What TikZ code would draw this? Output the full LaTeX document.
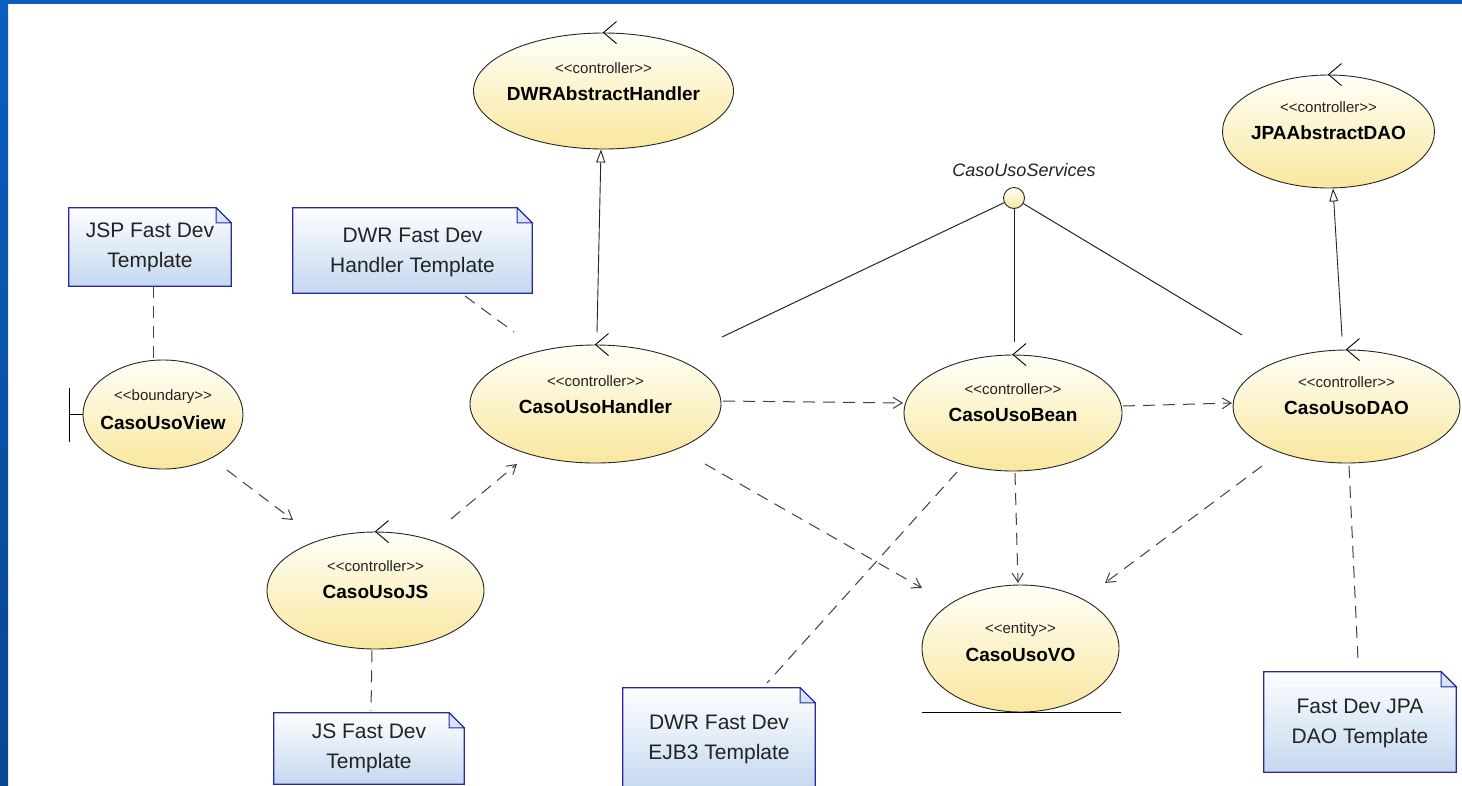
\documentclass[tikz,border=0pt]{standalone}
\usepackage{fontspec}
\setmainfont{Liberation Sans}
\usetikzlibrary{arrows.meta,shapes.geometric}
\definecolor{ucTop}{RGB}{255,255,248}
\definecolor{ucMid}{RGB}{252,247,214}
\definecolor{ucBot}{RGB}{249,231,158}
\definecolor{noteTop}{RGB}{253,254,255}
\definecolor{noteBot}{RGB}{196,216,240}
\definecolor{noteLine}{RGB}{40,40,165}
\definecolor{frameTop}{RGB}{10,94,192}
\definecolor{frameBot}{RGB}{8,70,145}
\definecolor{txt}{RGB}{35,35,35}
\newcommand{\stereo}[1]{<\kern0pt<#1>\kern0pt>}
\newcommand{\ctrlmark}[1]{\draw[line width=0.9pt] ([shift={(13,-11)}]#1.north) -- (#1.north) -- ([shift={(13,11)}]#1.north);}
\newcommand{\notedraw}[1]{%
  \path[notepath] (#1.north west) -- ([xshift=-15pt]#1.north east) -- ([yshift=-15pt]#1.north east) -- (#1.south east) -- (#1.south west) -- cycle;
  \draw[draw=noteLine, line width=1pt, fill=noteBot!70] ([xshift=-15pt]#1.north east) -- ([xshift=-15pt,yshift=-15pt]#1.north east) -- ([yshift=-15pt]#1.north east) -- cycle;}
\begin{document}
\begin{tikzpicture}[x=1pt,y=-1pt,
  uc/.style={ellipse, draw=black!85, line width=0.9pt, top color=ucTop, middle color=ucMid, bottom color=ucBot, inner sep=0pt},
  sttxt/.style={font=\fontsize{15}{18}\selectfont, text=txt, inner sep=0pt},
  nmtxt/.style={font=\fontsize{19}{22}\selectfont\bfseries, inner sep=0pt},
  notefr/.style={inner sep=0pt, draw=none},
  notetxt/.style={inner sep=0pt, align=center, font=\fontsize{21}{30}\selectfont, text=txt},
  notepath/.style={draw=noteLine, line width=1.2pt, top color=noteTop, bottom color=noteBot},
  link/.style={draw=black!75, line width=1pt, dash pattern=on 12pt off 8pt},
  dep/.style={link, -{Straight Barb[length=9pt,width=11pt]}},
  gen/.style={draw=black!85, line width=0.9pt, -{Triangle[open,length=13pt,width=9pt,fill=white]}},
  assoc/.style={draw=black!85, line width=1pt}]
\useasboundingbox (0,0) rectangle (1462,785);
\clip (0,0) rectangle (1462,785);
\fill[white] (0,0) rectangle (1462,785);
\shade[top color=frameTop, bottom color=frameBot] (0,0) rectangle (8,785);
\fill[frameTop] (0,0) rectangle (1462,4);

% use-case ellipses
\node[uc, minimum width=260pt, minimum height=116pt] (dwr) at (603.5,91) {};
\node[uc, minimum width=251pt, minimum height=118pt] (hdl) at (595.5,404) {};
\node[uc, minimum width=160pt, minimum height=109pt] (view) at (163,414.5) {};
\node[uc, minimum width=217pt, minimum height=117pt] (js) at (375.5,590.5) {};
\node[uc, minimum width=218pt, minimum height=116pt] (bean) at (1013,413) {};
\node[uc, minimum width=227pt, minimum height=113pt] (dao) at (1346.5,406.5) {};
\node[uc, minimum width=212pt, minimum height=113pt] (jpa) at (1328.5,131.5) {};
\node[uc, minimum width=197pt, minimum height=127pt] (vo) at (1020.5,648.5) {};

\node[sttxt] (dwr-s) at ([yshift=23pt]dwr.center) {\stereo{controller}};
\node[nmtxt] (dwr-n) at ([yshift=-3pt]dwr.center) {DWRAbstractHandler};
\node[sttxt] (hdl-s) at ([yshift=23pt]hdl.center) {\stereo{controller}};
\node[nmtxt] (hdl-n) at ([yshift=-3pt]hdl.center) {CasoUsoHandler};
\node[sttxt] (view-s) at ([yshift=17.5pt]view.center) {\stereo{boundary}};
\node[nmtxt] (view-n) at ([yshift=-8.5pt]view.center) {CasoUsoView};
\node[sttxt] (js-s) at ([yshift=24.5pt]js.center) {\stereo{controller}};
\node[nmtxt] (js-n) at ([yshift=-1.5pt]js.center) {CasoUsoJS};
\node[sttxt] (bean-s) at ([yshift=24pt]bean.center) {\stereo{controller}};
\node[nmtxt] (bean-n) at ([yshift=-2pt]bean.center) {CasoUsoBean};
\node[sttxt] (dao-s) at ([yshift=24.5pt]dao.center) {\stereo{controller}};
\node[nmtxt] (dao-n) at ([yshift=-1.5pt]dao.center) {CasoUsoDAO};
\node[sttxt] (jpa-s) at ([yshift=24.5pt]jpa.center) {\stereo{controller}};
\node[nmtxt] (jpa-n) at ([yshift=-1.5pt]jpa.center) {JPAAbstractDAO};
\node[sttxt] (vo-s) at ([yshift=18.5pt]vo.center) {\stereo{entity}};
\node[nmtxt] (vo-n) at ([yshift=-6.5pt]vo.center) {CasoUsoVO};

% stereotype icons
\ctrlmark{dwr}
\ctrlmark{hdl}
\ctrlmark{js}
\ctrlmark{bean}
\ctrlmark{dao}
\ctrlmark{jpa}
\draw[line width=1pt] ([shift={(-13,-27)}]view.west) -- ([shift={(-13,27)}]view.west);
\draw[line width=1pt] ([xshift=-13pt]view.west) -- (view.west);
\draw[line width=1pt] ([xshift=-99pt]vo.south) -- ([xshift=100pt]vo.south);

% interface
\node[circle, draw=black!85, line width=0.9pt, top color=ucTop, bottom color=ucBot, minimum size=21pt, inner sep=0pt] (svc) at (1014,198) {};
\node[font=\fontsize{18}{20}\selectfont\itshape, text=txt, inner sep=0pt] (svc-l) at (1024,170) {CasoUsoServices};
\draw[assoc] (svc) -- ([shift={(126.5,-67)}]hdl.center);
\draw[assoc] (svc) -- ([shift={(1,-71)}]bean.center);
\draw[assoc] (svc) -- ([shift={(-104.5,-71.5)}]dao.center);

% generalisations
\draw[gen] ([shift={(1.5,-12)}]hdl.north) -- ([xshift=-2.5pt]dwr.south);
\draw[gen] ([shift={(-4.5,-13)}]dao.north) -- ([xshift=4.5pt]jpa.south);

% notes
\node[notefr, minimum width=162pt, minimum height=78pt] (jspn) at (150,247) {};
\notedraw{jspn}
\node[notetxt] (jspn-t) at (jspn.center) {JSP Fast Dev\\Template};
\node[notefr, minimum width=239pt, minimum height=85pt] (dwrn) at (412.5,250.5) {};
\notedraw{dwrn}
\node[notetxt] (dwrn-t) at ([yshift=-1.5pt]dwrn.center) {DWR Fast Dev\\Handler Template};
\node[notefr, minimum width=190pt, minimum height=71pt] (jsn) at (369,748.5) {};
\notedraw{jsn}
\node[notetxt] (jsn-t) at (jsn.center) {JS Fast Dev\\Template};
\node[notefr, minimum width=192pt, minimum height=103pt] (ejbn) at (719,739.5) {};
\notedraw{ejbn}
\node[notetxt] (ejbn-t) at (ejbn.center) {DWR Fast Dev\\EJB3 Template};
\node[notefr, minimum width=192pt, minimum height=100pt] (jpan) at (1360,722) {};
\notedraw{jpan}
\node[notetxt] (jpan-t) at ([yshift=-1.5pt]jpan.center) {Fast Dev JPA\\DAO Template};

% dependencies
\draw[dep] ([shift={(64,55.5)}]view.center) -- ([shift={(-82.5,-70.5)}]js.center);
\draw[dep] ([shift={(75.5,-71.5)}]js.center) -- ([shift={(-78.5,60)}]hdl.center);
\draw[dep] ([shift={(127.5,-3)}]hdl.center) -- ([shift={(-110,-10)}]bean.center);
\draw[dep] ([shift={(110,-7)}]bean.center) -- ([shift={(-114.5,-3.5)}]dao.center);
\draw[dep] ([shift={(109.5,60)}]hdl.center) -- ([shift={(-98.5,-60.5)}]vo.center);
\draw[dep] ([shift={(2,60)}]bean.center) -- ([shift={(-2.5,-65.5)}]vo.center);
\draw[dep] ([shift={(-84.5,59.5)}]dao.center) -- ([shift={(84.5,-65.5)}]vo.center);

% note links
\draw[link] ([xshift=3pt]jspn.south) -- ([xshift=-10pt]view.north);
\draw[link] ([shift={(52.5,45.5)}]dwrn.center) -- ([shift={(-81.5,-72)}]hdl.center);
\draw[link] ([shift={(-3.5,1)}]js.south) -- ([shift={(2,-2)}]jsn.north);
\draw[link] ([shift={(-56,59)}]bean.center) -- ([shift={(48,-56.5)}]ejbn.center);
\draw[link] ([shift={(2.5,59.5)}]dao.center) -- ([shift={(-2,-62)}]jpan.center);
\end{tikzpicture}
\end{document}
